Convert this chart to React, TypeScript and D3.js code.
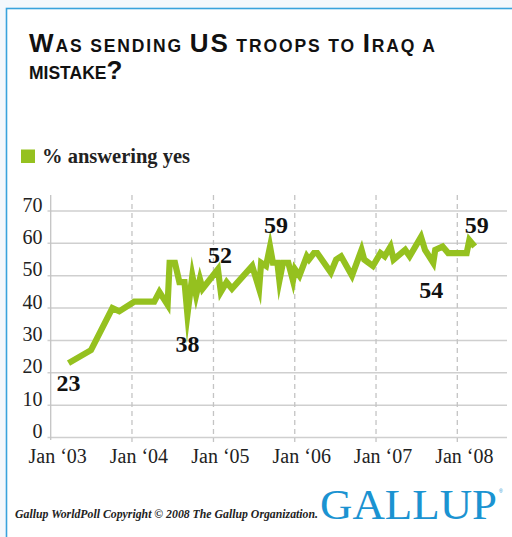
import React from "react";
import * as d3 from "d3";

const W = 512;
const H = 537;

const dates = [
  "2003-03-22", "2003-07-01", "2003-10-05", "2003-11-05", "2004-01-12", "2004-04-10",
  "2004-05-03", "2004-06-09", "2004-06-18", "2004-07-12", "2004-08-01", "2004-08-24",
  "2004-09-06", "2004-09-28", "2004-10-15", "2004-11-01", "2004-11-13", "2005-01-21",
  "2005-02-03", "2005-03-01", "2005-03-25", "2005-06-24", "2005-07-25", "2005-08-03",
  "2005-08-25", "2005-09-12", "2005-09-25", "2005-10-15", "2005-10-24", "2005-11-09",
  "2005-12-03", "2005-12-24", "2006-01-02", "2006-01-22", "2006-02-24", "2006-03-06",
  "2006-03-28", "2006-04-12", "2006-06-12", "2006-07-06", "2006-07-28", "2006-09-15",
  "2006-10-28", "2006-11-09", "2006-12-18", "2007-01-21", "2007-02-09", "2007-03-07",
  "2007-03-21", "2007-05-12", "2007-06-01", "2007-07-22", "2007-08-09", "2007-09-15",
  "2007-09-24", "2007-10-27", "2007-11-21", "2008-02-12", "2008-02-24", "2008-03-19",
];
const yesValues = [
  23, 27, 40, 39, 42, 42,
  45, 41, 54, 54, 48, 48,
  38, 50, 44, 49, 46, 52,
  45, 48, 46, 53, 46, 54,
  53, 59, 54, 54, 48.5, 54,
  54, 48.5, 52, 50, 56, 55,
  57, 57, 51, 55, 56, 50,
  58, 55, 53, 57, 56, 59,
  55, 58, 56, 62, 58, 54,
  58, 59, 57, 57, 61, 59,
];

const yTicks = [0, 10, 20, 30, 40, 50, 60, 70];
const xTickYears = [2003, 2004, 2005, 2006, 2007, 2008];
const xTickLabels = ["Jan \u201803", "Jan \u201804", "Jan \u201805", "Jan \u201806", "Jan \u201807", "Jan \u201808"];

// labelled points: index into data, label text
const labelIdx = [0, 12, 17, 25, 53, 59];
const labelText = ["23", "38", "52", "59", "54", "59"];
const labelDx = [0, 0, 2, 6, -2, 2];
const labelDy = [28, 37, -6, -14, 35, -14];

const GREEN = "#95c11f";
const BLUE = "#1b93d1";

export default function App() {
  const x = d3
    .scaleTime()
    .domain([new Date(2003, 0, 1), new Date(2008, 0, 1)])
    .range([50.7, 457.3]);
  const y = d3.scaleLinear().domain([0, 70]).range([437.5, 211]);
  const parse = d3.timeParse("%Y-%m-%d");
  const pts = dates.map((d, i) => [x(parse(d) as Date), y(yesValues[i])] as [number, number]);
  const line = d3.line().curve(d3.curveLinear)(pts) || "";

  const serif = "'Liberation Serif', 'Times New Roman', serif";
  const sans = "'Liberation Sans', Arial, sans-serif";
  const big = 26;
  const small = 17.5;

  return (
    <svg
      width={W}
      height={H}
      style={{ position: "absolute", left: 0, top: 0 }}
      xmlns="http://www.w3.org/2000/svg"
    >
      <rect x={0} y={0} width={W} height={H} fill="#f4f8fc" />
      <rect x={6.5} y={8.5} width={W + 20} height={H + 20} fill="#ffffff" stroke="#39a3dc" strokeWidth={1.6} />

      {/* Title */}
      <text x={29} y={52} fontFamily={sans} fontWeight="bold" fill="#111" textLength={406} lengthAdjust="spacing">
        <tspan fontSize={big}>W</tspan>
        <tspan fontSize={small}>AS SENDING </tspan>
        <tspan fontSize={big}>US</tspan>
        <tspan fontSize={small}> TROOPS TO </tspan>
        <tspan fontSize={big}>I</tspan>
        <tspan fontSize={small}>RAQ A</tspan>
      </text>
      <text x={29} y={79} fontFamily={sans} fontWeight="bold" fill="#111">
        <tspan fontSize={small}>MISTAKE</tspan>
        <tspan fontSize={big}>?</tspan>
      </text>

      {/* Legend */}
      <rect x={21} y={149.5} width={14} height={13.5} fill={GREEN} />
      <text x={42} y={162.5} fontFamily={serif} fontWeight="bold" fontSize={20.5} fill="#222">
        % answering yes
      </text>

      {/* Grid */}
      {yTicks.map((t) => (
        <line key={"g" + t} x1={47.5} x2={507} y1={y(t)} y2={y(t)} stroke="#cfcfcf" strokeWidth={1.5} />
      ))}
      {xTickYears.slice(1).map((yr) => (
        <line
          key={"v" + yr}
          x1={x(new Date(yr, 0, 1))}
          x2={x(new Date(yr, 0, 1))}
          y1={195}
          y2={442}
          stroke="#c4c4c4"
          strokeWidth={1.3}
          strokeDasharray="5,4"
        />
      ))}
      <line x1={50.7} x2={50.7} y1={195} y2={440} stroke="#c4c4c4" strokeWidth={1.3} />

      {/* Y labels */}
      {yTicks.map((t) => (
        <text key={"yl" + t} x={42.5} y={y(t) + 0.5} textAnchor="end" fontFamily={serif} fontSize={20} fill="#222">
          {t}
        </text>
      ))}
      {/* X labels */}
      {xTickYears.map((yr, i) => (
        <text
          key={"xl" + yr}
          x={x(new Date(yr, 0, 1)) + 7}
          y={463}
          textAnchor="middle"
          fontFamily={serif}
          fontSize={20}
          fill="#222"
        >
          {xTickLabels[i]}
        </text>
      ))}

      {/* Line */}
      <path d={line} fill="none" stroke={GREEN} strokeWidth={6.2} strokeLinejoin="miter" strokeMiterlimit={14} strokeLinecap="butt" />

      {/* Value labels */}
      {labelIdx.map((idx, i) => (
        <text
          key={"vl" + i}
          x={pts[idx][0] + labelDx[i]}
          y={pts[idx][1] + labelDy[i]}
          textAnchor="middle"
          fontFamily={serif}
          fontWeight="bold"
          fontSize={24}
          fill="#111"
        >
          {labelText[i]}
        </text>
      ))}

      {/* Footer */}
      <text x={15} y={518} fontFamily={serif} fontStyle="italic" fontWeight="bold" fontSize={12} fill="#222" textLength={303} lengthAdjust="spacingAndGlyphs">
        Gallup WorldPoll Copyright © 2008 The Gallup Organization.
      </text>
      <text x={320} y={518.5} fontFamily={serif} fontSize={43} fill={BLUE} textLength={177} lengthAdjust="spacingAndGlyphs">
        GALLUP
      </text>
      <text x={499} y={493} fontFamily={sans} fontSize={5} fill={BLUE}>
        ®
      </text>
    </svg>
  );
}
